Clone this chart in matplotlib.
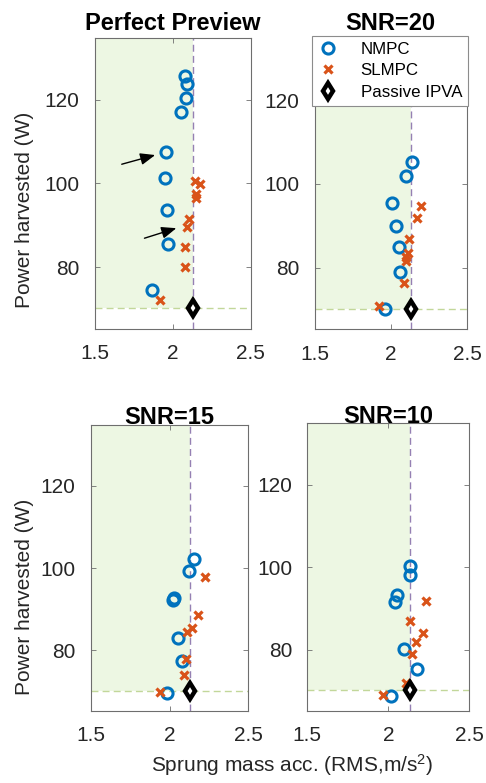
import matplotlib
matplotlib.use("Agg")
import matplotlib.pyplot as plt
from matplotlib.lines import Line2D

plt.rcParams['font.family'] = ['Liberation Sans', 'DejaVu Sans']
plt.rcParams['mathtext.fontset'] = 'custom'
plt.rcParams['mathtext.rm'] = 'Liberation Sans'
plt.rcParams['mathtext.it'] = 'Liberation Sans:italic'

# ---------------- data ----------------
titles = ["Perfect Preview", "SNR=20", "SNR=15", "SNR=10"]

pp_nmpc_x = [2.081, 2.089, 2.083, 2.055, 1.958, 1.947, 1.960, 1.967, 1.868]
pp_nmpc_y = [125.8, 123.8, 120.4, 117.0, 107.5, 101.3, 93.7, 85.4, 74.5]
pp_slmpc_x = [2.141, 2.173, 2.148, 2.152, 2.106, 2.091, 2.081, 2.081, 1.919]
pp_slmpc_y = [100.5, 99.9, 97.5, 96.5, 91.4, 89.5, 84.9, 79.9, 72.0]

snr20_nmpc_x = [2.141, 2.103, 2.008, 2.032, 2.056, 2.062, 1.960]
snr20_nmpc_y = [105.3, 101.8, 95.5, 90.0, 84.9, 79.0, 70.3]
snr20_slmpc_x = [2.199, 2.171, 2.121, 2.110, 2.099, 2.097, 2.084, 1.920]
snr20_slmpc_y = [94.8, 92.0, 86.8, 83.6, 82.6, 81.7, 76.5, 70.8]

snr15_nmpc_x = [2.157, 2.126, 2.026, 2.022, 2.055, 2.077, 1.982]
snr15_nmpc_y = [102.2, 99.3, 92.6, 92.2, 83.1, 77.3, 69.5]
snr15_slmpc_x = [2.226, 2.183, 2.145, 2.109, 2.107, 2.094, 1.941]
snr15_slmpc_y = [97.9, 88.5, 85.3, 84.4, 77.9, 73.9, 69.9]

snr10_nmpc_x = [2.136, 2.136, 2.052, 2.043, 2.097, 2.175, 2.017]
snr10_nmpc_y = [100.3, 98.2, 93.3, 91.5, 80.2, 75.4, 68.8]
snr10_slmpc_x = [2.233, 2.134, 2.216, 2.169, 2.145, 2.107, 1.968]
snr10_slmpc_y = [91.8, 86.9, 84.2, 82.0, 79.0, 72.0, 69.0]

passive_x = [2.133, 2.132, 2.130, 2.134]
passive_y = [70.2, 70.2, 70.1, 70.3]

# arrows in the perfect-preview panel: (x_from, y_from, x_to, y_to)
arrows = [(1.672, 104.6, 1.887, 106.8), (1.818, 86.9, 2.023, 89.3)]

legend_labels = ['NMPC', 'SLMPC', 'Passive IPVA']
xticks = [1.5, 2, 2.5]
xtick_labels = ["1.5", "2", "2.5"]
yticks = [80, 100, 120]
xlim = (1.5, 2.5)
ylim = (65.3, 134.8)

nmpc_x = [pp_nmpc_x, snr20_nmpc_x, snr15_nmpc_x, snr10_nmpc_x]
nmpc_y = [pp_nmpc_y, snr20_nmpc_y, snr15_nmpc_y, snr10_nmpc_y]
slmpc_x = [pp_slmpc_x, snr20_slmpc_x, snr15_slmpc_x, snr10_slmpc_x]
slmpc_y = [pp_slmpc_y, snr20_slmpc_y, snr15_slmpc_y, snr10_slmpc_y]

# ---------------- style ----------------
W, H = 486, 783
fig = plt.figure(figsize=(W / 100, H / 100), dpi=100)

def px_rect(l, t, r, b):
    return [l / W, 1 - b / H, (r - l) / W, (b - t) / H]

rects = [px_rect(95, 38, 250.5, 328.5),
         px_rect(314.5, 38, 467, 329.5),
         px_rect(90.7, 425, 248.3, 710.7),
         px_rect(307.3, 423.3, 469.3, 710.7)]
title_pads = [6, 6, 0.5, 0.5]

C_NMPC = '#0072BD'
C_SLMPC = '#D95319'
C_FILL = '#EDF7E3'
C_VLINE = '#9580B3'
C_HLINE = '#C2D79A'
C_SPINE = '#6E6E6E'
TICK_FS = 15

NMPC_STYLE = dict(ls='none', marker='o', ms=8, mfc='none', mec=C_NMPC, mew=2.2)
SLMPC_STYLE = dict(ls='none', marker='x', ms=5.5, mec=C_SLMPC, mew=2.3)
PASSIVE_STYLE = dict(ls='none', marker='d', ms=8.5, mfc='white', mec='black', mew=3.2)

axes = []
for i in range(4):
    ax = fig.add_axes(rects[i])
    axes.append(ax)
    ax.set_xlim(*xlim)
    ax.set_ylim(*ylim)
    px, py = passive_x[i], passive_y[i]
    ax.fill_between([xlim[0], px], [py, py], [ylim[1], ylim[1]],
                    color=C_FILL, lw=0, zorder=0)
    ax.axvline(px, color=C_VLINE, lw=1.0, ls=(0, (5, 3)), zorder=1)
    ax.axhline(py, color=C_HLINE, lw=1.0, ls=(0, (5, 3)), zorder=1)
    ax.plot(nmpc_x[i], nmpc_y[i], zorder=3, **NMPC_STYLE)
    ax.plot(slmpc_x[i], slmpc_y[i], zorder=4, **SLMPC_STYLE)
    ax.plot([px], [py], zorder=5, **PASSIVE_STYLE)
    ax.set_xticks(xticks)
    ax.set_xticklabels(xtick_labels)
    ax.set_yticks(yticks)
    ax.tick_params(direction='in', length=3.5, width=0.6, color=C_SPINE,
                   top=True, right=True, labelsize=TICK_FS,
                   labelcolor='#262626', pad=11)
    for s in ax.spines.values():
        s.set_color(C_SPINE)
        s.set_linewidth(0.8)
    ax.set_title(titles[i], fontsize=17, fontweight='bold', pad=title_pads[i],
                 color='black')

# arrows
for (x0, y0, x1, y1) in arrows:
    axes[0].annotate('', xy=(x1, y1), xytext=(x0, y0),
                     arrowprops=dict(arrowstyle='-|>,head_length=0.9,head_width=0.36',
                                     color='black', lw=1.0, shrinkA=0, shrinkB=0),
                     zorder=6)

# legend
handles = [Line2D([], [], **NMPC_STYLE),
           Line2D([], [], **SLMPC_STYLE),
           Line2D([], [], **PASSIVE_STYLE)]
leg = axes[1].legend(handles, legend_labels,
                     loc='upper right', bbox_to_anchor=(468 / W, 1 - 36 / H),
                     bbox_transform=fig.transFigure, borderaxespad=0,
                     fontsize=12.2, frameon=True, fancybox=False, framealpha=1,
                     handlelength=1.2, handletextpad=1.3, labelspacing=0.38,
                     borderpad=0.35)
leg.get_frame().set_edgecolor('#8C8C8C')
leg.get_frame().set_linewidth(0.8)
leg.set_zorder(10)

# axis labels
fig.text(25 / W, 1 - 210 / H, 'Power harvested (W)', rotation=90,
         ha='center', va='center', fontsize=15, color='#262626')
fig.text(25 / W, 1 - 597 / H, 'Power harvested (W)', rotation=90,
         ha='center', va='center', fontsize=15, color='#262626')
fig.text(292 / W, 1 - 765 / H, r'Sprung mass acc. (RMS,m/s$^2$)',
         ha='center', va='center', fontsize=15, color='#262626')

fig.savefig('out.png', dpi=100)
